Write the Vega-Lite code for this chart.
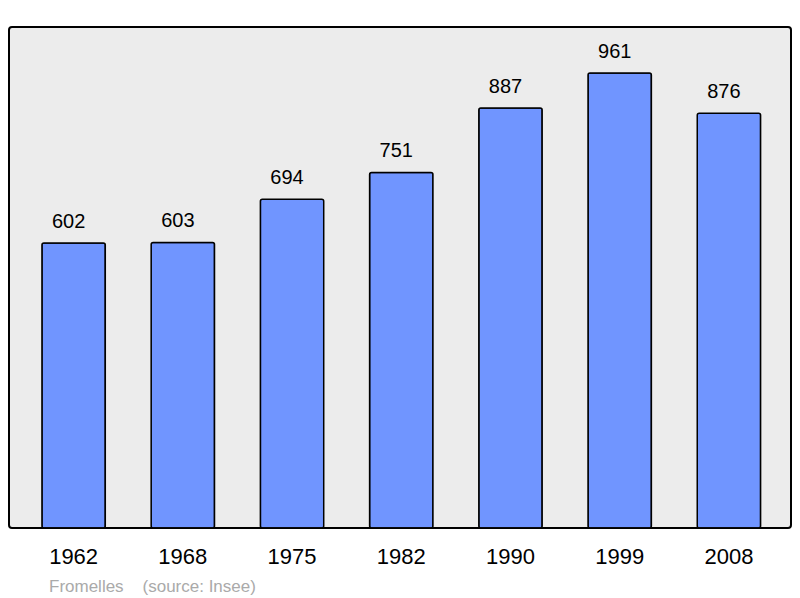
{
  "$schema": "https://vega.github.io/schema/vega-lite/v6.json",
  "width": 782,
  "height": 501,
  "autosize": {"type": "none"},
  "padding": {"left": 9, "top": 27, "right": 9, "bottom": 70},
  "background": "#ffffff",
  "data": {
    "values": [
      {"year": "1962", "population": 602},
      {"year": "1968", "population": 603},
      {"year": "1975", "population": 694},
      {"year": "1982", "population": 751},
      {"year": "1990", "population": 887},
      {"year": "1999", "population": 961},
      {"year": "2008", "population": 876}
    ]
  },
  "title": {
    "text": "Fromelles\u00a0\u00a0\u00a0 (source: Insee)",
    "orient": "bottom",
    "anchor": "start",
    "frame": "group",
    "dx": 40,
    "offset": 12,
    "fontSize": 17,
    "fontWeight": "normal",
    "font": "Liberation Sans",
    "color": "#aaaaaa"
  },
  "encoding": {
    "x": {
      "field": "year",
      "type": "nominal",
      "sort": null,
      "title": null,
      "scale": {"paddingInner": 0.42, "paddingOuter": 0.29, "align": 0.52},
      "axis": {
        "domain": false,
        "ticks": false,
        "tickSize": 0,
        "labelPadding": 18,
        "labelAngle": 0,
        "labelFontSize": 22,
        "labelFont": "Liberation Sans",
        "labelColor": "#000000"
      }
    },
    "y": {
      "field": "population",
      "type": "quantitative",
      "scale": {"domain": [0, 1058], "nice": false},
      "axis": null
    }
  },
  "layer": [
    {
      "mark": {
        "type": "bar",
        "color": "#7095ff",
        "stroke": "#000000",
        "strokeWidth": 1.5,
        "cornerRadius": 2
      }
    },
    {
      "mark": {
        "type": "text",
        "baseline": "alphabetic",
        "dx": -5,
        "dy": -15,
        "fontSize": 20,
        "font": "Liberation Sans",
        "color": "#000000"
      },
      "encoding": {"text": {"field": "population", "type": "quantitative"}}
    }
  ],
  "config": {
    "view": {
      "fill": "#ececec",
      "stroke": "#000000",
      "strokeWidth": 2,
      "cornerRadius": 3
    }
  }
}
